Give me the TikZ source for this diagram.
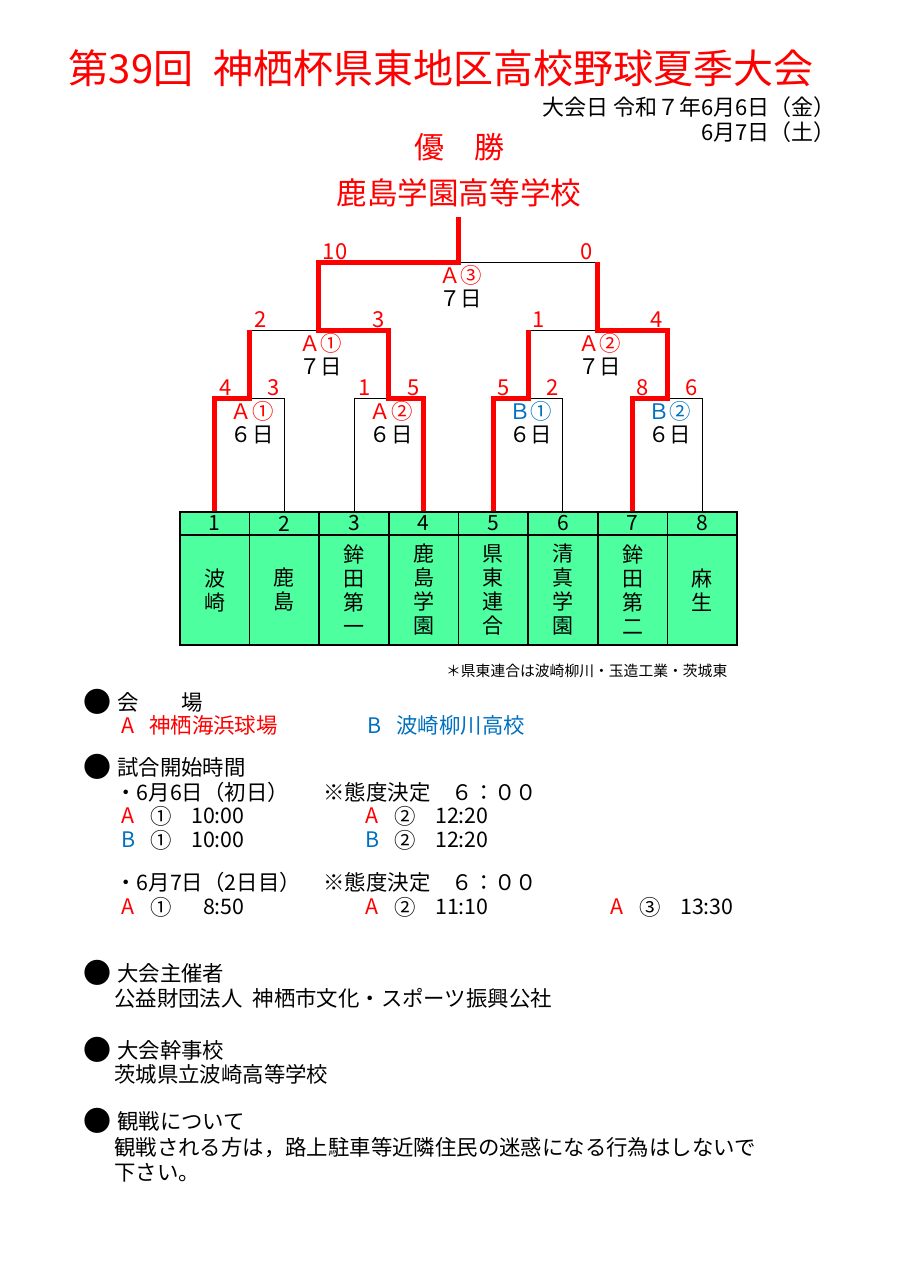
\documentclass[tikz,border=0pt]{standalone}
\usepackage{fontspec}
\setmainfont{Noto Sans CJK JP}
\usetikzlibrary{positioning}
\definecolor{cellgreen}{RGB}{77,255,158}
\definecolor{vblue}{RGB}{0,112,192}

\begin{document}
\begin{tikzpicture}[x=0.5pt,y=-0.5pt,
    win/.style={draw=red,line width=2.5pt},
    lose/.style={draw=black,line width=0.5pt},
    score/.style={red,inner xsep=2pt,inner ysep=1pt,font=\fontsize{11}{12}\selectfont},
    game/.style={align=center,inner sep=0.5pt,xshift=1.2pt,font=\fontsize{10.7}{11.5}\selectfont},
    head/.style={draw,fill=cellgreen,line width=0.75pt,minimum width=34.8pt,minimum height=11.5pt,
                 inner sep=0pt,font=\fontsize{10.5}{12}\selectfont},
    team/.style={head,minimum height=55pt,align=center},
    txt/.style={anchor=west,inner sep=0pt,font=\fontsize{10.7}{12}\selectfont},
    dot/.style={inner sep=0pt,font=\fontsize{14}{14}\selectfont}]

  \useasboundingbox[fill=white] (0,0) rectangle (903,1282);

  \node[red,font=\fontsize{20}{20}\selectfont] (title) at (441,68) {第39回\hspace{10pt}神栖杯県東地区高校野球夏季大会};
  \node[txt,anchor=east,font=\fontsize{11}{12}\selectfont] (date1) at (836,107) {大会日 令和７年6月6日（金）};
  \node[txt,anchor=east,font=\fontsize{11}{12}\selectfont] (date2) at (836,132) {6月7日（土）};
  \node[red,inner sep=0pt,font=\fontsize{15}{15}\selectfont] (yusho) at (459,147) {優　勝};
  \node[red,inner sep=0pt,font=\fontsize{15.3}{16}\selectfont] (champ) at (459,193) {鹿島学園高等学校};

  \foreach \i/\nm in {1/{波\\崎},2/{鹿\\島},3/{鉾\\田\\第\\一},4/{鹿\\島\\学\\園},
                      5/{県\\東\\連\\合},6/{清\\真\\学\\園},7/{鉾\\田\\第\\二},8/{麻\\生}}
  {
    \node[head] (h\i) at ({180+69.625*(\i-0.5)},523.5) {\i};
    \node[team] (n\i) at ({180+69.625*(\i-0.5)},590) {\nm};
  }
  \node[inner sep=0pt,font=\fontsize{7.4}{8}\selectfont,below left=9pt and 5pt of n8.south east] (note)
        {＊県東連合は波崎柳川・玉造工業・茨城東};

  \coordinate (q1) at (249.6,398);
  \coordinate (q2) at (388.9,398);
  \coordinate (q3) at (528.1,398);
  \coordinate (q4) at (667.4,398);
  \coordinate (s1) at (318.5,330);
  \coordinate (s2) at (597.5,330);
  \coordinate (f) at (458.5,262);
  \coordinate (top) at (458.5,217);

  \draw[lose] (h2.north) |- (q1);
  \draw[lose] (h3.north) |- (q2);
  \draw[lose] (h6.north) |- (q3);
  \draw[lose] (h8.north) |- (q4);
  \draw[lose] (q1 |- s1) -- (s1);
  \draw[lose] (q3 |- s2) -- (s2);
  \draw[lose] (f) -- (s2 |- f);

  \draw[win] (h1.north) |- (q1) -- (q1 |- s1);
  \draw[win] (h4.north) |- (q2) -- (q2 |- s1) -- (s1) -- (s1 |- f) -- (f) -- (top);
  \draw[win] (h5.north) |- (q3) -- (q3 |- s2);
  \draw[win] (h7.north) |- (q4) -- (q4 |- s2) -- (s2) -- (s2 |- f);

  \node[score,above right] (p1) at (h1.north |- q1) {4};
  \node[score,above left]  (p2) at (h2.north |- q1) {3};
  \node[score,above right] (p3) at (h3.north |- q2) {1};
  \node[score,above left]  (p4) at (h4.north |- q2) {5};
  \node[score,above right] (p5) at (h5.north |- q3) {5};
  \node[score,above left]  (p6) at (h6.north |- q3) {2};
  \node[score,above right] (p7) at (h7.north |- q4) {8};
  \node[score,above left]  (p8) at (h8.north |- q4) {6};
  \node[score,above right] (p9) at (q1 |- s1) {2};
  \node[score,above left]  (p10) at (q2 |- s1) {3};
  \node[score,above right] (p11) at (q3 |- s2) {1};
  \node[score,above left]  (p12) at (q4 |- s2) {4};
  \node[score,above right] (p13) at (s1 |- f) {10};
  \node[score,above left]  (p14) at (s2 |- f) {0};

  \node[game,below=1pt of q1] (g1) {{\color{red}Ａ①}\\６日};
  \node[game,below=1pt of q2] (g2) {{\color{red}Ａ②}\\６日};
  \node[game,below=1pt of q3] (g3) {{\color{vblue}Ｂ①}\\６日};
  \node[game,below=1pt of q4] (g4) {{\color{vblue}Ｂ②}\\６日};
  \node[game,below=1pt of s1] (g5) {{\color{red}Ａ①}\\７日};
  \node[game,below=1pt of s2] (g6) {{\color{red}Ａ②}\\７日};
  \node[game,below=1pt of f]  (g7) {{\color{red}Ａ③}\\７日};

  \foreach \y/\hd [count=\k] in {702/会　　場,767/試合開始時間,973/大会主催者,1050/大会幹事校,1121/観戦について}
  {
    \node[dot] (b\k) at (97.5,\y) {●};
    \node[txt] (hd\k) at (117,\y) {\hd};
  }

  \node[txt,red] (va) at (121,725) {A\hspace{7.5pt}神栖海浜球場};
  \node[txt,vblue] (vb) at (367,725) {B\hspace{7.5pt}波崎柳川高校};

  \node[txt] (day1) at (115,792) {・6月6日（初日）};
  \node[txt] (rain1) at (323,792) {※態度決定　６：００};
  \node[txt] (day2) at (115,882) {・6月7日（2日目）};
  \node[txt] (rain2) at (323,882) {※態度決定　６：００};

  \foreach \y/\c/\l/\n/\tm/\x [count=\k] in {816/red/A/①/10:00/0,816/red/A/②/12:20/244,
        840/vblue/B/①/10:00/0,840/vblue/B/②/12:20/244,
        907/red/A/①/8:50/0,907/red/A/②/11:10/244,907/red/A/③/13:30/489}
  {
    \node[txt,\c] (tl\k) at (121+\x,\y) {\l};
    \node[txt] (tc\k) at (150+\x,\y) {\n};
    \node[txt,anchor=east] (tt\k) at (245+\x,\y) {\tm};
  }

  \node[txt] (org) at (114,998) {公益財団法人\hspace{5pt}神栖市文化・スポーツ振興公社};
  \node[txt] (host) at (114,1074) {茨城県立波崎高等学校};
  \node[txt] (note1) at (114,1148) {観戦される方は，路上駐車等近隣住民の迷惑になる行為はしないで};
  \node[txt] (note2) at (114,1173) {下さい。};
\end{tikzpicture}
\end{document}
